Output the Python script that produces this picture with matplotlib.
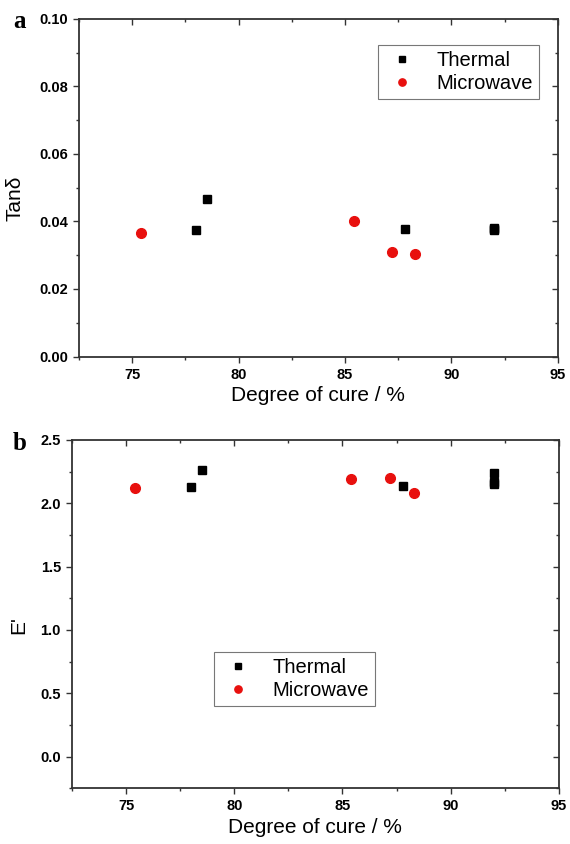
import numpy as np
import matplotlib.pyplot as plt
from matplotlib.ticker import MultipleLocator, NullFormatter

plt.rcParams['font.family'] = ['Liberation Sans', 'DejaVu Sans']

# Data
thermal_cure = [78.0, 78.5, 87.8, 92.0, 92.0, 92.0]
thermal_tand = [0.0375, 0.0467, 0.0379, 0.0376, 0.0382, 0.0379]
thermal_E = [2.13, 2.26, 2.14, 2.24, 2.17, 2.15]

micro_cure = [75.4, 85.4, 87.2, 88.3]
micro_tand = [0.0365, 0.0400, 0.0310, 0.0304]
micro_E = [2.12, 2.19, 2.20, 2.08]

fig = plt.figure(figsize=(5.7, 8.44), dpi=100)
ax_a = fig.add_axes([0.1386, 0.5776, 0.840, 0.400])
ax_b = fig.add_axes([0.1263, 0.066, 0.854, 0.4127])

SPINE = '#333333'


def style_axis(ax, ylim, ymajor, yminor, yfmt):
    ax.set_xlim(72.5, 95)
    ax.set_ylim(*ylim)
    ax.xaxis.set_major_locator(MultipleLocator(5))
    ax.xaxis.set_minor_locator(MultipleLocator(2.5))
    ax.yaxis.set_major_locator(MultipleLocator(ymajor))
    ax.yaxis.set_minor_locator(MultipleLocator(yminor))
    ax.yaxis.set_major_formatter(plt.FormatStrFormatter(yfmt))
    for s in ax.spines.values():
        s.set_linewidth(1.3)
        s.set_color(SPINE)
    ax.tick_params(which='both', direction='out', color=SPINE, width=1.0)
    ax.tick_params(which='major', length=4, labelsize=10.5, pad=4)
    ax.tick_params(which='minor', length=2.5)
    for lab in ax.get_xticklabels() + ax.get_yticklabels():
        lab.set_fontweight('bold')

    # mirrored ticks on top and right point inward
    top = ax.secondary_xaxis('top')
    top.xaxis.set_major_locator(MultipleLocator(5))
    top.xaxis.set_minor_locator(MultipleLocator(2.5))
    top.xaxis.set_major_formatter(NullFormatter())
    top.tick_params(which='both', direction='in', color=SPINE, width=1.0)
    top.tick_params(which='major', length=4)
    top.tick_params(which='minor', length=2.5)
    top.spines['top'].set_visible(False)
    right = ax.secondary_yaxis('right')
    right.yaxis.set_major_locator(MultipleLocator(ymajor))
    right.yaxis.set_minor_locator(MultipleLocator(yminor))
    right.yaxis.set_major_formatter(NullFormatter())
    right.tick_params(which='both', direction='in', color=SPINE, width=1.0)
    right.tick_params(which='major', length=4)
    right.tick_params(which='minor', length=2.5)
    right.spines['right'].set_visible(False)

    ax.set_xlabel('Degree of cure / %', fontsize=15, labelpad=3)


for ax, th_y, mw_y in [(ax_a, thermal_tand, micro_tand), (ax_b, thermal_E, micro_E)]:
    ax.plot(thermal_cure, th_y, 's', color='black', markersize=5.5, label='Thermal')
    ax.plot(micro_cure, mw_y, 'o', color='#e8100e', markersize=7, label='Microwave')

style_axis(ax_a, (0, 0.10), 0.02, 0.01, '%.2f')
style_axis(ax_b, (-0.25, 2.5), 0.5, 0.25, '%.1f')
ax_a.set_ylabel('Tanδ', fontsize=15)
ax_a.yaxis.set_label_coords(-0.113, 0.47)
ax_b.set_ylabel("E'", fontsize=15)
ax_b.yaxis.set_label_coords(-0.09, 0.47)

leg_kw = dict(fontsize=14.5, frameon=True, fancybox=False, handletextpad=0.8,
              borderpad=0.3, labelspacing=0.2, handlelength=1.8, borderaxespad=0,
              markerscale=0.75)
leg_a = ax_a.legend(loc='upper left', bbox_to_anchor=(0.624, 0.923), **leg_kw)
leg_b = ax_b.legend(loc='upper left', bbox_to_anchor=(0.292, 0.391), **leg_kw)
for leg in (leg_a, leg_b):
    leg.get_frame().set_edgecolor('#555555')
    leg.get_frame().set_linewidth(0.8)

fig.text(0.035, 0.975, 'a', fontsize=18, fontweight='bold', family='Liberation Serif',
         va='center', ha='center')
fig.text(0.035, 0.475, 'b', fontsize=18, fontweight='bold', family='Liberation Serif',
         va='center', ha='center')

fig.savefig('out.png', dpi=100)
